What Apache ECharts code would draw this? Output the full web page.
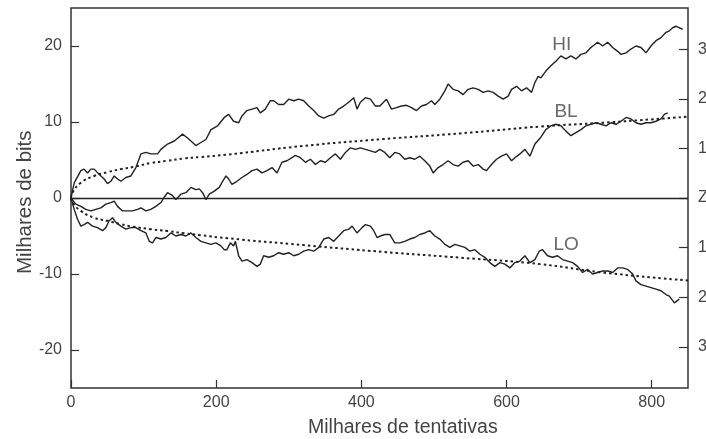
<!DOCTYPE html>
<html>
<head>
<meta charset="utf-8">
<script src="https://cdn.jsdelivr.net/npm/echarts@6/dist/echarts.min.js"></script>
<style>
  html, body { margin: 0; padding: 0; background: #ffffff; }
  #chart { width: 706px; height: 439px; }
</style>
</head>
<body>
<div id="chart"></div>
<script>
// Tick positions
const xTicks = [0, 200, 400, 600, 800];
const yTicks = [-20, -10, 0, 10, 20];
const zTicks = [-3, -2, -1, 0, 1, 2, 3];

// Cumulative deviation, thousands of bits vs thousands of trials
const hiSeries = [[0,0],[4.4,2.0],[13.6,3.6],[18.1,3.8],[22.8,3.3],[27.3,3.8],[32,3.8],[38.9,3.1],[45.7,2.5],[50.3,1.9],[54.9,2.2],[59.5,2.9],[64.1,2.5],[68.7,2.2],[75.6,2.7],[82.5,2.9],[89.4,4.0],[96.3,5.8],[103.2,6.0],[110,5.8],[119.3,5.8],[123.9,6.4],[133,7.1],[142.3,7.5],[153.7,8.4],[160.6,7.9],[167.5,7.3],[172,6.9],[179,7.3],[185.9,7.7],[192.8,9.0],[202,9.5],[211.2,10.6],[217.2,11.0],[224,10.1],[231,9.9],[235.5,10.8],[242.4,11.5],[249.3,11.7],[256.2,11.9],[260.8,11.2],[267.7,11.7],[274.6,12.8],[279.2,12.8],[286.1,12.3],[293,12.3],[299.9,13.0],[306.8,12.8],[313.7,13.0],[320.6,12.8],[327.5,12.1],[334.4,11.5],[341.3,10.8],[348.2,10.5],[355,10.8],[361.9,11.0],[368.8,11.7],[375.7,12.1],[382.6,12.6],[389.5,13.2],[394,11.7],[398.7,12.6],[405.6,13.2],[412.5,13.0],[419.4,12.1],[425.4,12.1],[434.6,13.0],[441.5,11.7],[448.4,11.9],[455.3,12.1],[462.2,12.2],[469.1,11.9],[476,11.5],[482.9,12.1],[489.7,12.3],[496.6,12.8],[501.2,12.3],[508.1,13.0],[515,14.1],[519.5,15.0],[526.4,14.3],[533.3,14.1],[540.2,13.6],[547.1,14.3],[554,14.5],[560.9,14.3],[567.8,13.9],[574.7,14.1],[581.6,13.9],[588.5,13.4],[595.4,13.0],[602.3,13.4],[606.9,14.3],[613.8,14.7],[620.7,14.1],[627.6,14.5],[634.5,13.9],[639.1,15.2],[643.6,16.0],[647.3,15.8],[654.2,16.7],[661.1,17.4],[668,18.0],[674.9,18.7],[681.8,18.3],[688.7,18.7],[695.6,18.3],[702.5,18.9],[709.4,19.1],[716.3,19.8],[725.5,20.5],[732.4,20.0],[739.3,20.5],[746.2,19.8],[753.1,19.3],[757.7,18.9],[764.6,19.1],[771.4,19.6],[778.3,20.0],[785.2,19.8],[792.1,19.1],[799,20.0],[805.9,20.7],[812.8,21.1],[819.7,21.8],[824.3,22.0],[828.9,22.4],[833.5,22.6],[838,22.4],[842.7,22.2]];

const blSeries = [[0,0],[6.6,-0.8],[13.6,-1.1],[20.5,-1.5],[27.3,-1.7],[34.2,-1.5],[41.1,-1.3],[48,-0.8],[54.9,-0.6],[59.5,-0.4],[64.1,-1.1],[71,-1.7],[77.9,-1.7],[84.8,-1.7],[91.7,-1.5],[96.3,-1.3],[103.2,-1.7],[110,-1.5],[116.9,-1.1],[123.9,-0.6],[128.5,0.1],[133,0.7],[140,0.3],[144.5,-0.2],[151.4,0.5],[158.3,0.7],[165.2,1.4],[172,1.1],[176.8,1.2],[181.3,0.7],[185.9,-0.2],[190.5,0.5],[197.4,0.9],[204.3,1.4],[208.9,2.2],[213.5,2.9],[217.2,2.5],[221.7,1.8],[228.6,2.2],[235.5,2.7],[242.4,3.1],[249.3,3.6],[256.2,3.8],[263.1,3.3],[270,3.6],[276.9,4.0],[283.8,3.3],[290.6,4.7],[297.5,4.9],[304.4,5.3],[309,5.6],[316,5.3],[322.9,4.7],[329.8,5.1],[336.7,4.4],[343.6,4.9],[350.5,4.7],[357.4,5.3],[364.3,5.8],[371.2,5.1],[378.1,6.0],[385,6.6],[391.9,6.4],[398.7,6.6],[405.6,6.4],[412.5,6.2],[419.4,6.0],[425.4,6.4],[432.3,6.0],[439.1,5.3],[446,6.0],[452.9,5.8],[459.8,5.1],[466.7,5.3],[473.6,5.1],[480.5,5.5],[487.4,4.9],[494.3,4.2],[498.9,3.3],[505.8,4.0],[512.7,4.4],[519.5,4.9],[526.4,4.4],[533.3,4.2],[540.2,4.7],[547.1,4.9],[554,4.2],[560.9,4.4],[567.8,3.8],[572.4,3.6],[579.3,4.4],[586.2,5.1],[593.1,5.5],[600,5.8],[606.9,4.9],[611.5,5.3],[618.4,5.8],[625.3,6.4],[632.2,5.5],[639.1,7.1],[647.3,8.0],[654.2,9.0],[661.1,9.5],[668,9.7],[674.9,9.5],[681.8,8.8],[688.7,8.2],[695.6,8.6],[702.5,9.0],[709.4,9.5],[716.3,9.7],[723.2,9.9],[730.1,9.7],[737,9.5],[743.9,9.9],[750.8,9.7],[757.7,10.1],[764.6,10.6],[771.4,10.4],[778.3,9.9],[785.2,9.7],[792.1,9.9],[799,9.9],[805.9,10.1],[812.8,10.4],[817.4,11.0],[822,11.2]];

const loSeries = [[0,0],[4.4,-1.5],[9,-2.8],[13.6,-3.7],[18.1,-3.5],[22.8,-3.2],[29.6,-3.7],[36.5,-3.9],[43.4,-4.3],[48,-3.9],[52.6,-3.0],[57.2,-2.6],[61.8,-3.2],[68.7,-3.7],[75.6,-4.1],[82.5,-3.9],[89.4,-3.9],[96.3,-4.3],[103.2,-4.6],[107.8,-5.7],[112.4,-5.9],[116.9,-5.2],[123.9,-5.4],[130.7,-5.2],[137.6,-4.6],[144.5,-5.0],[151.4,-4.8],[158.3,-5.0],[165.2,-4.6],[172,-5.2],[179,-5.7],[185.9,-5.9],[192.8,-6.1],[199.7,-5.9],[206.5,-6.3],[211.2,-6.8],[214.8,-6.8],[219.5,-5.9],[224,-6.3],[226.4,-5.7],[231,-7.6],[235.5,-8.3],[242.4,-8.1],[249.3,-8.5],[256.2,-9.0],[260.8,-8.7],[265.4,-7.6],[272.3,-7.8],[279.2,-7.6],[286.1,-7.2],[293,-7.4],[299.9,-7.2],[306.8,-7.6],[313.7,-7.4],[320.6,-7.0],[327.5,-6.8],[334.4,-7.0],[341.3,-6.5],[348.2,-5.4],[355,-5.2],[361.9,-5.7],[368.8,-5.0],[375.7,-4.3],[382.6,-4.1],[387.2,-3.7],[394,-4.6],[400.9,-3.9],[405.6,-3.5],[412.5,-3.7],[417.1,-4.3],[421.6,-5.2],[426.3,-5.0],[432.3,-4.8],[439.1,-4.8],[446,-5.9],[452.9,-5.9],[459.8,-5.7],[466.7,-5.4],[473.6,-5.2],[480.5,-4.8],[487.4,-4.6],[494.3,-4.3],[501.2,-5.0],[508.1,-5.4],[515,-6.1],[521.9,-6.5],[528.8,-6.1],[535.7,-6.3],[542.6,-6.5],[549.5,-7.0],[556.4,-6.8],[563.3,-7.4],[570.1,-7.8],[577,-8.5],[583.9,-9.0],[590.8,-8.5],[597.7,-8.7],[604.6,-9.2],[611.5,-8.5],[618.4,-8.3],[625.3,-7.6],[632.2,-8.5],[639.1,-8.1],[645,-7.0],[649.6,-6.8],[656.5,-7.6],[663.4,-7.8],[670.3,-7.6],[677.2,-8.1],[684.1,-8.3],[691,-8.5],[697.9,-9.0],[704.8,-9.8],[711.7,-9.4],[718.6,-10.0],[725.5,-9.8],[732.4,-9.6],[739.3,-9.6],[746.2,-9.8],[753.1,-9.2],[760,-9.2],[766.9,-9.4],[773.8,-10.0],[778.3,-10.9],[785.2,-11.4],[792.1,-11.6],[799,-11.8],[805.9,-12.0],[812.8,-12.2],[819.7,-12.7],[824.3,-12.9],[831.2,-13.8],[838,-13.3]];

// Significance envelopes (dotted)
const upperBound = [[0,0],[2,0.7],[13.6,2.0],[32,2.9],[50.3,3.4],[68.7,3.8],[87.1,4.1],[110,4.6],[133,4.9],[156,5.2],[179,5.4],[215,5.7],[320,6.85],[430,7.75],[536,8.5],[646,9.4],[732,9.9],[850,10.7]];
const lowerBound = [[0,0],[2,-0.6],[13.6,-1.7],[32,-2.6],[50,-3.0],[68.7,-3.45],[87,-3.8],[110,-4.1],[133,-4.35],[156,-4.65],[179,-4.9],[216,-5.3],[320.6,-6.2],[431,-7.1],[535.7,-7.85],[646,-8.7],[732,-9.8],[850,-10.85]];

// Curve tags, placed in data coordinates
const curveTags = [
  { text: 'HI', at: [676, 20.2] },
  { text: 'BL', at: [682, 11.4] },
  { text: 'LO', at: [682, -6.2] }
];

const ink = '#222222';
const frameInk = '#333333';
const textInk = '#444444';
const fontFamily = '"Liberation Sans", Arial, Helvetica, sans-serif';

const chart = echarts.init(document.getElementById('chart'), null, { renderer: 'canvas' });

function walk(name, data) {
  return {
    name, type: 'line', data, xAxisIndex: 0, yAxisIndex: 0,
    showSymbol: false, symbol: 'none', smooth: false, animation: false,
    lineStyle: { color: ink, width: 1.4 }, z: 3
  };
}
function envelope(name, data) {
  return {
    name, type: 'line', data, xAxisIndex: 0, yAxisIndex: 0,
    showSymbol: false, symbol: 'none', smooth: true, animation: false,
    lineStyle: { color: ink, width: 2, type: [2.5, 3] }, z: 2
  };
}

chart.setOption({
  animation: false,
  backgroundColor: '#ffffff',
  textStyle: { fontFamily },
  grid: {
    left: 71, right: 18, top: 8, bottom: 51,
    outerBoundsMode: 'none', containLabel: false,
    show: true, borderColor: frameInk, borderWidth: 1.5, backgroundColor: 'transparent'
  },
  xAxis: {
    type: 'value', min: 0, max: 850,
    axisLine: { show: false, onZero: false },
    splitLine: { show: false },
    axisTick: { inside: true, length: 8, customValues: xTicks, lineStyle: { color: frameInk, width: 1.2 } },
    axisLabel: { customValues: xTicks, margin: 7, color: textInk, fontSize: 16, fontFamily }
  },
  yAxis: [
    {
      type: 'value', min: -25, max: 25, position: 'left',
      axisLine: { show: false, onZero: false },
      splitLine: { show: false },
      axisTick: { inside: true, length: 8, customValues: yTicks, lineStyle: { color: frameInk, width: 1.2 } },
      axisLabel: { customValues: yTicks, margin: 9, color: textInk, fontSize: 16, fontFamily }
    },
    {
      type: 'value', min: -3.83, max: 3.83, position: 'right',
      axisLine: { show: false, onZero: false },
      splitLine: { show: false },
      axisTick: { inside: true, length: 9, customValues: zTicks, lineStyle: { color: frameInk, width: 1.2 } },
      axisLabel: {
        customValues: zTicks, margin: 10, color: textInk, fontSize: 16, fontFamily,
        formatter: v => (v === 0 ? 'Z' : String(Math.abs(v)))
      }
    }
  ],
  graphic: [
    {
      type: 'text', left: 308, top: 418,
      style: { text: 'Milhares de tentativas', fill: textInk, font: '19.5px ' + fontFamily }
    },
    {
      type: 'text', rotation: Math.PI / 2, x: 15, y: 274,
      style: { text: 'Milhares de bits', fill: textInk, font: '20.5px ' + fontFamily }
    }
  ],
  series: [
    envelope('limite superior', upperBound),
    envelope('limite inferior', lowerBound),
    walk('HI', hiSeries),
    walk('BL', blSeries),
    walk('LO', loSeries),
    {
      name: 'tags', type: 'scatter', xAxisIndex: 0, yAxisIndex: 0,
      data: curveTags.map(t => ({ value: t.at, name: t.text })),
      symbolSize: 0, silent: true, z: 4,
      label: {
        show: true, position: 'inside', formatter: p => p.name,
        color: textInk, fontSize: 19, fontFamily
      },
      markLine: {
        silent: true, symbol: 'none', animation: false,
        label: { show: false },
        lineStyle: { color: ink, width: 1.4, type: 'solid' },
        data: [{ yAxis: 0 }]
      }
    }
  ]
});
</script>
</body>
</html>
